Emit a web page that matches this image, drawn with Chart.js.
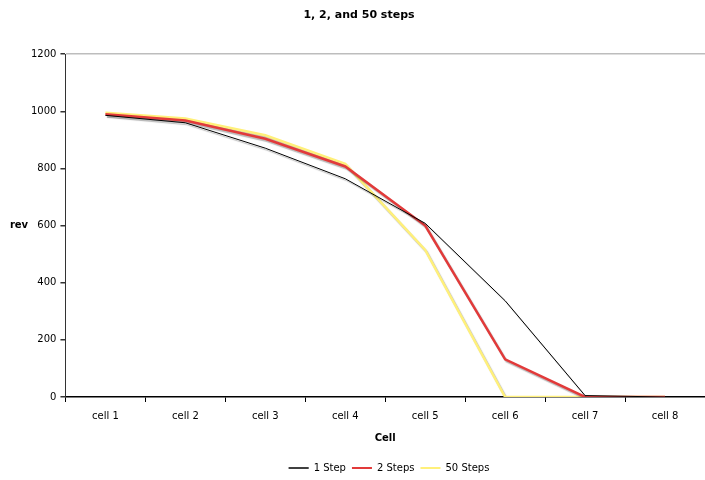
<!DOCTYPE html>
<html>
<head>
<meta charset="utf-8">
<script src="https://cdn.jsdelivr.net/npm/chart.js@4/dist/chart.umd.min.js"></script>
<style>
  html, body { margin: 0; padding: 0; background: #fff; }
  #wrap { width: 705px; height: 480px; }
</style>
</head>
<body>
<div id="wrap"><canvas id="graph"></canvas></div>
<script>
/* data */
var cells = ['cell 1', 'cell 2', 'cell 3', 'cell 4', 'cell 5', 'cell 6', 'cell 7', 'cell 8'];
var oneStep = [986, 960, 871, 764, 608, 337, 5, 0];
var twoSteps = [990, 968, 904, 807, 600, 132, 0, 0];
var fiftySteps = [995, 975, 916, 816, 515, 0, 0, 0];
var yTicks = [0, 200, 400, 600, 800, 1000, 1200];

var FONT = 'DejaVu Sans';
var LEG_DX = 23, LEG_DY = 3, TITLE_DX = -7;

/* soft gray shadow under the lines */
var shadowPlugin = {
	id: 'shadow',
	beforeDatasetsDraw: function(chart) {
		var c = chart.ctx;
		c.save();
		c.shadowColor = 'rgba(0,0,0,0.28)';
		c.shadowOffsetX = 1.5;
		c.shadowOffsetY = 2;
		c.shadowBlur = 1;
	},
	afterDatasetsDraw: function(chart) {
		chart.ctx.restore();
	}
};

function nudge(box, dx, dy) {
	if (!box) return;
	box.left += dx; box.right += dx;
	box.top += dy; box.bottom += dy;
}

/* horizontal "rev" label on the left, legend and title nudged like the original */
var extras = {
	id: 'extras',
	beforeDraw: function(chart) {
		nudge(chart.legend, LEG_DX, LEG_DY);
		nudge(chart.titleBlock, TITLE_DX, 0);
	},
	afterDraw: function(chart) {
		var c = chart.ctx;
		var y = chart.scales.y.getPixelForValue(600);
		c.save();
		c.font = 'bold 10px ' + FONT;
		c.fillStyle = '#000';
		c.textAlign = 'center';
		c.textBaseline = 'middle';
		c.fillText('rev', 19, y);
		c.restore();
		nudge(chart.legend, -LEG_DX, -LEG_DY);
		nudge(chart.titleBlock, -TITLE_DX, 0);
	}
};

var ctx = document.getElementById('graph');
var myChart = new Chart(ctx, {
	type: 'line',
	data: {
		labels: cells,
		datasets: [{
			label: '1 Step',
			data: oneStep,
			borderColor: '#000000',
			backgroundColor: '#000000',
			borderWidth: 1,
			pointRadius: 0,
			tension: 0
		}, {
			label: '2 Steps',
			data: twoSteps,
			borderColor: '#e23a3a',
			backgroundColor: '#e23a3a',
			borderWidth: 2.5,
			pointRadius: 0,
			tension: 0
		}, {
			label: '50 Steps',
			data: fiftySteps,
			borderColor: '#fff07a',
			backgroundColor: '#fff07a',
			borderWidth: 2.5,
			pointRadius: 0,
			tension: 0
		}]
	},
	options: {
		responsive: true,
		maintainAspectRatio: false,
		animation: false,
		layout: { padding: { left: 27, right: 0, top: 0, bottom: 0 } },
		plugins: {
			title: {
				display: true,
				text: '1, 2, and 50 steps',
				color: '#000',
				font: { family: FONT, size: 11, weight: 'bold' },
				padding: { top: 9, bottom: 32 }
			},
			legend: {
				position: 'bottom',
				labels: {
					color: '#000',
					font: { family: FONT, size: 10 },
					boxWidth: 20,
					boxHeight: 0,
					padding: 6,
					generateLabels: function(chart) {
						var items = Chart.defaults.plugins.legend.labels.generateLabels(chart);
						items.forEach(function(it) {
							it.lineWidth = Math.min(it.lineWidth, 2);
						});
						return items;
					}
				}
			},
			tooltip: { enabled: false }
		},
		scales: {
			x: {
				offset: true,
				grid: {
					offset: true,
					drawOnChartArea: false,
					drawTicks: true,
					tickLength: 5,
					color: '#000'
				},
				border: { color: '#000', width: 1.5 },
				ticks: {
					color: '#000',
					font: { family: FONT, size: 10 },
					padding: 8
				},
				title: {
					display: true,
					text: 'Cell',
					color: '#000',
					font: { family: FONT, size: 10, weight: 'bold' },
					padding: { top: 2, bottom: 10 }
				}
			},
			y: {
				min: 0,
				max: 1200,
				afterBuildTicks: function(axis) {
					axis.ticks = yTicks.map(function(v) { return { value: v }; });
				},
				grid: {
					drawTicks: true,
					tickLength: 5,
					color: function(c) {
						return c.tick && c.tick.value === 1200 ? '#bdbdbd' : 'rgba(0,0,0,0)';
					},
					tickColor: '#333',
					lineWidth: 1.5
				},
				border: { color: '#333', width: 1 },
				ticks: {
					color: '#000',
					font: { family: FONT, size: 10 },
					padding: 4,
					callback: function(v) { return String(v); }
				}
			}
		}
	},
	plugins: [shadowPlugin, extras]
});
</script>
</body>
</html>
